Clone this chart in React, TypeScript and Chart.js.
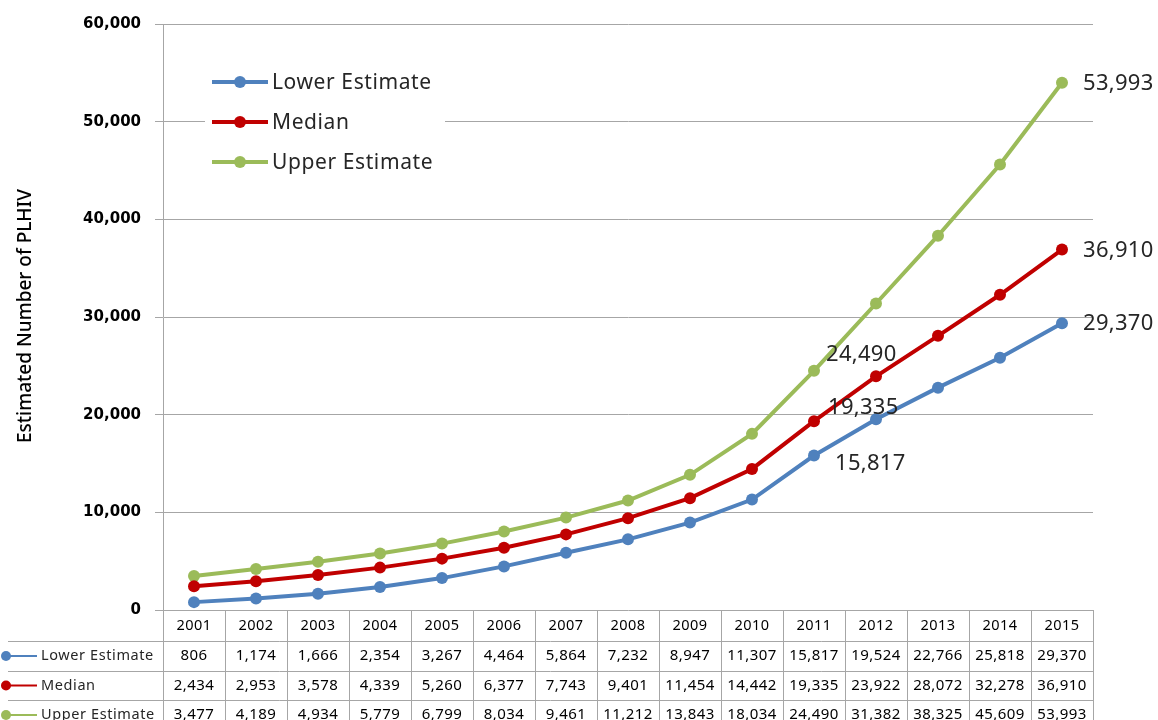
import React, { useEffect, useRef } from 'react';
import { Chart, registerables } from 'chart.js';

Chart.register(...registerables);

const years = ['2001', '2002', '2003', '2004', '2005', '2006', '2007', '2008', '2009', '2010', '2011', '2012', '2013', '2014', '2015'];
const lowerEstimate = [806, 1174, 1666, 2354, 3267, 4464, 5864, 7232, 8947, 11307, 15817, 19524, 22766, 25818, 29370];
const median = [2434, 2953, 3578, 4339, 5260, 6377, 7743, 9401, 11454, 14442, 19335, 23922, 28072, 32278, 36910];
const upperEstimate = [3477, 4189, 4934, 5779, 6799, 8034, 9461, 11212, 13843, 18034, 24490, 31382, 38325, 45609, 53993];
const seriesNames = ['Lower Estimate', 'Median', 'Upper Estimate'];
const yTicks = [0, 10000, 20000, 30000, 40000, 50000, 60000];
const labelledIndexes = [10, 14];

const COLORS = ['#4F81BD', '#C00000', '#9BBB59'];
const GRID = '#A6A6A6';
const fmt = (v: number) => v.toLocaleString('en-US');

// where the value labels sit relative to their point: [datasetIndex][labelIndex]
const labelOffsets = [
  [[21, 8], [21, 1]],
  [[14, -13], [21, 1]],
  [[12, -16], [21, 1]],
];

const overlayPlugin = {
  id: 'overlay',
  afterDraw(chart: any) {
    const { ctx, chartArea, scales } = chart;
    const x = scales.x;
    const half = (x.getPixelForValue(1) - x.getPixelForValue(0)) / 2;
    ctx.save();

    // axis title
    ctx.save();
    ctx.translate(26, 316);
    ctx.rotate(-Math.PI / 2);
    ctx.font = '500 19px "Noto Sans"';
    ctx.fillStyle = '#000';
    ctx.textAlign = 'center';
    ctx.textBaseline = 'middle';
    ctx.fillText('Estimated Number of PLHIV', 0, 0);
    ctx.restore();

    // legend inside the plot
    ctx.fillStyle = '#fff';
    ctx.fillRect(205, 60, 240, 124);
    seriesNames.forEach((name, i) => {
      const y = 82 + i * 40;
      ctx.strokeStyle = COLORS[i];
      ctx.lineWidth = 4;
      ctx.beginPath();
      ctx.moveTo(212, y);
      ctx.lineTo(268, y);
      ctx.stroke();
      ctx.fillStyle = COLORS[i];
      ctx.beginPath();
      ctx.arc(240, y, 6, 0, Math.PI * 2);
      ctx.fill();
      ctx.fillStyle = '#262626';
      ctx.font = '21px "Noto Sans"';
      ctx.letterSpacing = '0.6px';
      ctx.textAlign = 'left';
      ctx.textBaseline = 'middle';
      ctx.fillText(name, 272, y + 1);
    });

    // value labels
    ctx.font = '22px "Noto Sans"';
    ctx.letterSpacing = '0.3px';
    ctx.fillStyle = '#262626';
    ctx.textAlign = 'left';
    ctx.textBaseline = 'middle';
    chart.data.datasets.forEach((ds: any, di: number) => {
      const meta = chart.getDatasetMeta(di);
      labelledIndexes.forEach((idx, li) => {
        const pt = meta.data[idx];
        const [dx, dy] = labelOffsets[di][li];
        ctx.fillText(fmt(ds.data[idx]), pt.x + dx, pt.y + dy);
      });
    });

    // data table
    const top = chartArea.bottom;
    const rowLines = [top + 31, top + 61, top + 90, top + 120];
    const right = x.getPixelForValue(years.length - 1) + half;
    ctx.strokeStyle = GRID;
    ctx.lineWidth = 1;
    ctx.beginPath();
    rowLines.forEach((ry) => {
      ctx.moveTo(8, Math.round(ry) + 0.5);
      ctx.lineTo(right, Math.round(ry) + 0.5);
    });
    for (let i = 0; i <= years.length; i++) {
      const bx = Math.round(x.getPixelForValue(i) - half) + 0.5;
      ctx.moveTo(bx, top);
      ctx.lineTo(bx, 720);
    }
    ctx.stroke();

    ctx.textAlign = 'center';
    ctx.textBaseline = 'middle';
    ctx.fillStyle = '#000';
    ctx.font = '14.5px "Noto Sans"';
    ctx.letterSpacing = '0.4px';
    years.forEach((yr, i) => ctx.fillText(yr, x.getPixelForValue(i), top + 16));
    chart.data.datasets.forEach((ds: any, di: number) => {
      const cy = (rowLines[di] + rowLines[di + 1]) / 2;
      ctx.font = '15px "Noto Sans"';
      ctx.letterSpacing = '0.4px';
      ds.data.forEach((v: number, i: number) => ctx.fillText(fmt(v), x.getPixelForValue(i), cy));
      // row header with marker
      ctx.strokeStyle = COLORS[di];
      ctx.lineWidth = 2;
      ctx.beginPath();
      ctx.moveTo(6, cy);
      ctx.lineTo(37, cy);
      ctx.stroke();
      ctx.fillStyle = COLORS[di];
      ctx.beginPath();
      ctx.arc(6, cy, 5, 0, Math.PI * 2);
      ctx.fill();
      ctx.fillStyle = '#262626';
      ctx.textAlign = 'left';
      ctx.font = '14.5px "Noto Sans"';
      ctx.letterSpacing = '0.6px';
      ctx.fillText(seriesNames[di], 41, cy);
      ctx.textAlign = 'center';
      ctx.fillStyle = '#000';
    });

    ctx.restore();
  },
};

const App: React.FC = () => {
  const canvasRef = useRef<HTMLCanvasElement>(null);
  const chartRef = useRef<Chart | null>(null);

  useEffect(() => {
    if (!canvasRef.current) return;
    const ctx = canvasRef.current.getContext('2d');
    if (!ctx) return;
    if (chartRef.current) chartRef.current.destroy();

    const series = [lowerEstimate, median, upperEstimate];
    chartRef.current = new Chart(ctx, {
      type: 'line',
      data: {
        labels: years,
        datasets: series.map((data, i) => ({
          label: seriesNames[i],
          data,
          borderColor: COLORS[i],
          backgroundColor: COLORS[i],
          borderWidth: 4,
          pointRadius: 6,
          pointBorderWidth: 0,
          pointBackgroundColor: COLORS[i],
          tension: 0,
          fill: false,
        })),
      },
      options: {
        responsive: false,
        animation: false,
        layout: { padding: { top: 24, right: 65, bottom: 110, left: 0 } },
        scales: {
          x: {
            display: false,
            offset: true,
          },
          y: {
            min: 0,
            max: 60000,
            afterFit: (scale: any) => { scale.width = 163; },
            afterBuildTicks: (scale: any) => { scale.ticks = yTicks.map((value) => ({ value })); },
            ticks: {
              padding: 14,
              color: '#000',
              font: { family: '"DejaVu Sans"', size: 15, weight: 'bold' },
              callback: (v: any) => fmt(Number(v)),
            },
            grid: { color: GRID, tickLength: 8, lineWidth: 1 },
            border: { color: GRID },
          },
        },
        plugins: {
          legend: { display: false },
          tooltip: { enabled: false },
        },
      },
      plugins: [overlayPlugin],
    });

    return () => {
      if (chartRef.current) {
        chartRef.current.destroy();
        chartRef.current = null;
      }
    };
  }, []);

  return (
    <div style={{ position: 'absolute', left: 0, top: 0, width: 1158, height: 720, background: '#fff' }}>
      <canvas ref={canvasRef} width={1158} height={720} />
    </div>
  );
};

export default App;
